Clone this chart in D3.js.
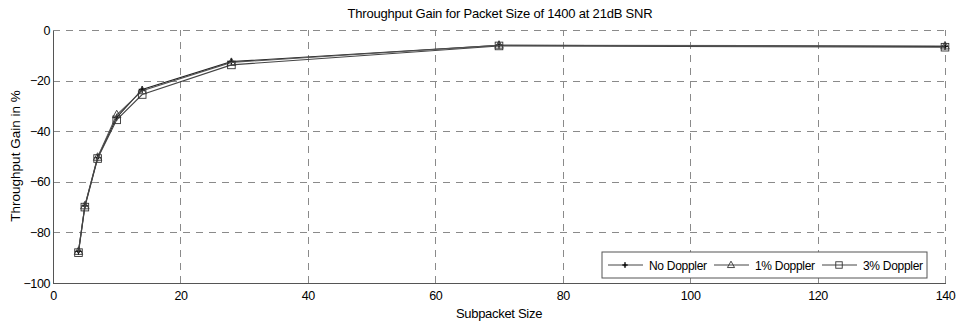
<!DOCTYPE html>
<head>
<meta charset="utf-8">
<style>
body { margin: 0; background: #fff; font-family: "Liberation Sans", Arial, sans-serif; }
.grid line { stroke: #8a8a8a; stroke-width: 1; stroke-dasharray: 7,6; shape-rendering: crispEdges; }
.grid path { stroke-width: 0; }
.axis path, .axis line { stroke: #555; shape-rendering: crispEdges; }
.axis text { font-size: 12.5px; fill: #000; letter-spacing: -0.4px; }
.lbl { font-size: 12px; fill: #000; letter-spacing: -0.3px; }
</style>
<body>
<script src="https://cdnjs.cloudflare.com/ajax/libs/d3/7.8.5/d3.min.js"></script>
<script>

// data
var subpacket = [4, 5, 7, 10, 14, 28, 70, 140];
var noDoppler  = [-87.5, -69.5, -50.5, -34.5, -23.5, -12.5, -6.0, -6.5];
var doppler1   = [-87.5, -69.5, -50.3, -33.5, -24.0, -12.8, -6.0, -6.3];
var doppler3   = [-88.0, -70.0, -50.8, -35.5, -25.5, -13.8, -6.3, -6.8];
var seriesNames = ["No Doppler", "1% Doppler", "3% Doppler"];
var xTicks = [0, 20, 40, 60, 80, 100, 120, 140];
var yTicks = [0, -20, -40, -60, -80, -100];

var margin = {top: 30, right: 17, bottom: 44, left: 53},
    width = 962 - margin.left - margin.right,
    height = 327 - margin.top - margin.bottom;

var x = d3.scaleLinear().domain([0, 140]).range([0, width]);
var y = d3.scaleLinear().domain([-100, 0]).range([height, 0]);

var svg = d3.select("body").append("svg")
    .attr("width", 962).attr("height", 327)
  .append("g")
    .attr("transform", "translate(" + margin.left + "," + margin.top + ")");

// gridlines
svg.append("g").attr("class", "grid")
    .attr("transform", "translate(0," + height + ")")
    .call(d3.axisBottom(x).tickValues(xTicks.slice(1)).tickSize(-height).tickFormat(""));
svg.append("g").attr("class", "grid")
    .call(d3.axisLeft(y).tickValues(yTicks.slice(0, -1)).tickSize(-width).tickFormat(""));

// axes (left + bottom only)
svg.append("g").attr("class", "axis")
    .attr("transform", "translate(0," + height + ")")
    .call(d3.axisBottom(x).tickValues(xTicks).tickSize(0).tickPadding(8).tickSizeOuter(0));
svg.append("g").attr("class", "axis")
    .call(d3.axisLeft(y).tickValues(yTicks).tickSize(0).tickPadding(3).tickSizeOuter(0));

// lines
var line = d3.line()
    .x(function(d) { return x(d[0]); })
    .y(function(d) { return y(d[1]); });

var allSeries = [noDoppler, doppler1, doppler3];
var lineColors = ["#222", "#555", "#444"];
var markers = ["plus", "tri", "sq"];

function drawMarker(g, type, cx, cy, s) {
  s = s || 1;
  if (type === "plus") {
    g.append("path").attr("d", "M" + (cx - 3.5 * s) + "," + cy + "H" + (cx + 3.5 * s) + "M" + cx + "," + (cy - 3.5 * s) + "V" + (cy + 3.5 * s))
      .attr("stroke", "#111").attr("stroke-width", 1.2).attr("fill", "none");
    g.append("circle").attr("cx", cx).attr("cy", cy).attr("r", 1.6).attr("fill", "#111");
  } else if (type === "tri") {
    g.append("path").attr("d", "M" + cx + "," + (cy - 4.5 * s) + "L" + (cx + 4.2 * s) + "," + (cy + 3 * s) + "L" + (cx - 4.2 * s) + "," + (cy + 3 * s) + "Z")
      .attr("stroke", "#333").attr("stroke-width", 0.9).attr("fill", "none");
  } else {
    g.append("rect").attr("x", cx - 3.8 * s).attr("y", cy - 3.8 * s).attr("width", 7.6 * s).attr("height", 7.6 * s)
      .attr("stroke", "#333").attr("stroke-width", 0.9).attr("fill", "none");
  }
}

allSeries.forEach(function(vals, i) {
  var pts = subpacket.map(function(s, j) { return [s, vals[j]]; });
  svg.append("path")
      .attr("d", line(pts))
      .attr("fill", "none")
      .attr("stroke", lineColors[i])
      .attr("stroke-width", 1.1);
  var mg = svg.append("g");
  pts.forEach(function(p) { drawMarker(mg, markers[i], x(p[0]), y(p[1])); });
});

// title and axis labels
svg.append("text").attr("class", "lbl")
    .attr("x", 500 - margin.left).attr("y", 18 - margin.top)
    .attr("text-anchor", "middle").style("font-size", "13px").style("letter-spacing", "-0.2px")
    .text("Throughput Gain for Packet Size of 1400 at 21dB SNR");
svg.append("text").attr("class", "lbl")
    .attr("x", x(70)).attr("y", height + 35)
    .attr("text-anchor", "middle").style("font-size", "13px")
    .text("Subpacket Size");
svg.append("text").attr("class", "lbl")
    .attr("transform", "translate(" + (20 - margin.left) + "," + (156 - margin.top) + ") rotate(-90)")
    .attr("text-anchor", "middle").style("font-size", "13.5px").style("letter-spacing", "0px")
    .text("Throughput Gain in %");

// legend
var lg = svg.append("g").attr("transform", "translate(" + (602 - margin.left) + "," + (252 - margin.top) + ")");
lg.append("rect").attr("width", 325).attr("height", 26)
    .attr("fill", "#fff").attr("stroke", "#555").attr("stroke-width", 1);
var legendX = [6, 112, 220];
seriesNames.forEach(function(name, i) {
  var g = lg.append("g").attr("transform", "translate(" + legendX[i] + ",13)");
  g.append("line").attr("x1", 0).attr("x2", 35).attr("y1", 0).attr("y2", 0)
      .attr("stroke", "#444").attr("stroke-width", 1);
  drawMarker(g, markers[i], 17, 0, 0.85);
  g.append("text").attr("class", "lbl")
      .attr("x", 41).attr("y", 4.5)
      .text(name);
});

</script>
</body>
